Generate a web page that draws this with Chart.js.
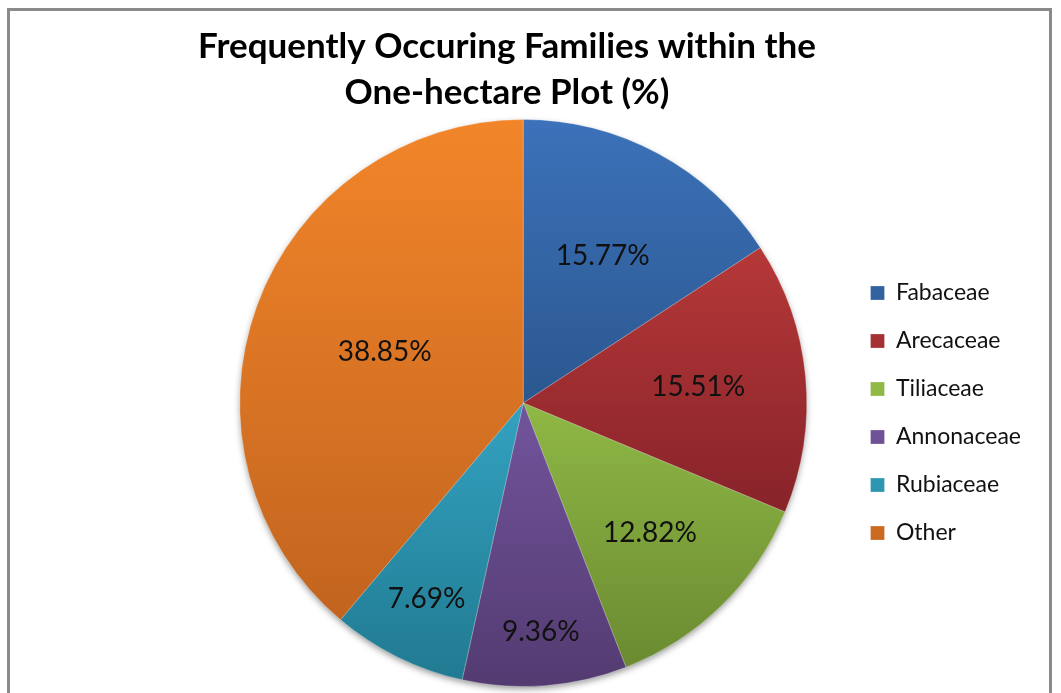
<!DOCTYPE html>
<html>
<head>
<meta charset="utf-8">
<title>Frequently Occuring Families</title>
<script src="https://cdn.jsdelivr.net/npm/chart.js@4"></script>
<style>
  html, body { margin: 0; padding: 0; background: #fff; overflow: hidden; }
  #wrap { position: relative; width: 1061px; height: 693px; }
  #frame {
    position: absolute; left: 7px; top: 8px; width: 1045px; height: 700px;
    border: 3px solid #8a8a8a; box-sizing: border-box; pointer-events: none;
  }
  canvas { position: absolute; left: 0; top: 0; }
</style>
</head>
<body>
<div id="wrap">
  <canvas id="familyChart" width="1061" height="693"></canvas>
  <div id="frame"></div>
</div>
<script>
// Families and their share of stems (%)
const families = ['Fabaceae', 'Arecaceae', 'Tiliaceae', 'Annonaceae', 'Rubiaceae', 'Other'];
const shares = [15.77, 15.51, 12.82, 9.36, 7.69, 38.85];

// light (top) and dark (bottom) shade of each slice
const lightShades = ['#3c72ba', '#b63838', '#8fb845', '#72549c', '#33a2c0', '#f28529'];
const darkShades = ['#2b578f', '#87232a', '#6b8a31', '#533b71', '#217a91', '#c2641f'];
const flatShades = ['#3565a5', '#a03030', '#7fa23c', '#644887', '#2b8ea8', '#dc7524'];

// how far out (fraction of radius) each percentage label sits
const labelDepth = [0.59, 0.62, 0.64, 0.81, 0.77, 0.52];

const total = shares.reduce((a, b) => a + b, 0);

// vertical gradient fitted to each slice's own bounding box
function sliceFill(context) {
  const chart = context.chart;
  const area = chart.chartArea;
  const i = context.dataIndex;
  if (!area) return flatShades[i];
  const cx = (area.left + area.right) / 2;
  const cy = (area.top + area.bottom) / 2;
  const r = Math.min(area.right - area.left, area.bottom - area.top) / 2;
  let before = 0;
  for (let k = 0; k < i; k++) before += shares[k];
  const a0 = -Math.PI / 2 + 2 * Math.PI * before / total;
  const a1 = a0 + 2 * Math.PI * shares[i] / total;
  let yMin = cy, yMax = cy;
  for (let s = 0; s <= 40; s++) {
    const a = a0 + (a1 - a0) * s / 40;
    const y = cy + r * Math.sin(a);
    yMin = Math.min(yMin, y);
    yMax = Math.max(yMax, y);
  }
  const g = chart.ctx.createLinearGradient(0, yMin, 0, yMax);
  g.addColorStop(0, lightShades[i]);
  g.addColorStop(1, darkShades[i]);
  return g;
}

// two-line bold heading above the pie
const headingPlugin = {
  id: 'heading',
  afterDraw(chart) {
    const c = chart.ctx;
    c.save();
    c.fillStyle = '#000';
    c.font = 'bold 35px Lato, "Open Sans", sans-serif';
    c.textAlign = 'center';
    c.textBaseline = 'middle';
    c.fillText('Frequently Occuring Families within the', 507, 47);
    c.fillText('One-hectare Plot (%)', 507, 93);
    c.restore();
  }
};

// soft shadow under the whole pie
const shadowPlugin = {
  id: 'pieShadow',
  beforeDatasetsDraw(chart) {
    const arc = chart.getDatasetMeta(0).data[0];
    if (!arc) return;
    const c = chart.ctx;
    c.save();
    c.shadowColor = 'rgba(0,0,0,0.45)';
    c.shadowBlur = 7;
    c.shadowOffsetY = 3;
    c.fillStyle = '#777';
    c.beginPath();
    c.arc(arc.x, arc.y, arc.outerRadius - 1, 0, Math.PI * 2);
    c.fill();
    c.restore();
  }
};

// percentage text inside each slice
const valueLabels = {
  id: 'valueLabels',
  afterDatasetsDraw(chart) {
    const c = chart.ctx;
    const meta = chart.getDatasetMeta(0);
    c.save();
    c.font = '28px Lato, "Open Sans", sans-serif';
    c.fillStyle = '#111';
    c.textAlign = 'center';
    c.textBaseline = 'middle';
    meta.data.forEach((arc, i) => {
      const mid = (arc.startAngle + arc.endAngle) / 2;
      const d = arc.outerRadius * labelDepth[i];
      c.fillText(shares[i].toFixed(2) + '%', arc.x + d * Math.cos(mid), arc.y + d * Math.sin(mid));
    });
    c.restore();
  }
};

new Chart(document.getElementById('familyChart').getContext('2d'), {
  type: 'pie',
  data: {
    labels: families,
    datasets: [{
      data: shares,
      backgroundColor: sliceFill,
      borderColor: 'rgba(255,255,255,0.25)',
      borderWidth: 1
    }]
  },
  options: {
    responsive: false,
    animation: false,
    layout: { padding: { left: 201, right: 30, top: 119, bottom: 6 } },
    plugins: {
      title: { display: false },
      tooltip: { enabled: false },
      legend: {
        position: 'right',
        fullSize: false,
        // empty title only nudges the item column down a little
        title: { display: true, text: '', font: { size: 10 }, padding: 4 },
        labels: {
          boxWidth: 14,
          boxHeight: 14,
          padding: 25,
          color: '#111',
          font: { size: 23, family: 'Lato, "Open Sans", sans-serif' }
        }
      }
    }
  },
  plugins: [shadowPlugin, valueLabels, headingPlugin]
});
</script>
</body>
</html>
